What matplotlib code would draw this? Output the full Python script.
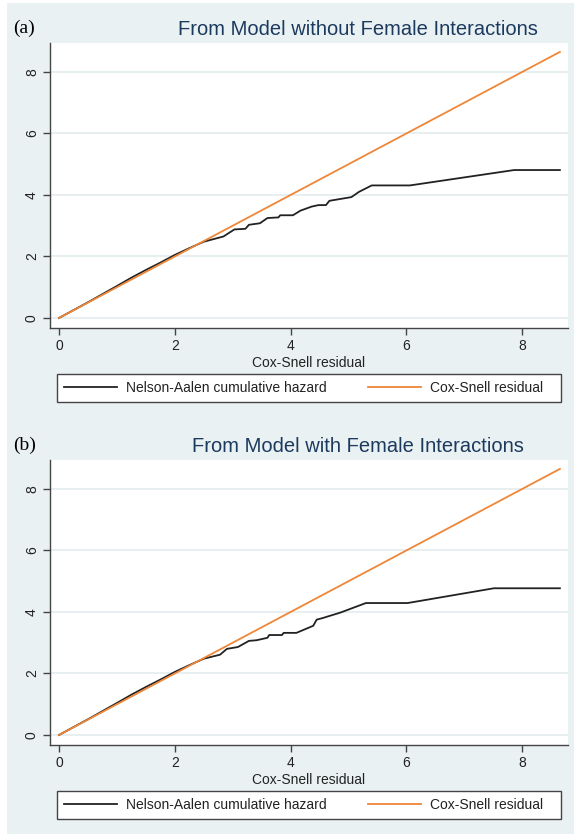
import matplotlib
matplotlib.use("Agg")
import matplotlib.pyplot as plt
from matplotlib.patches import Rectangle

# ---- data ----
panel_labels = ["(a)", "(b)"]
titles = ["From Model without Female Interactions", "From Model with Female Interactions"]

na_x_a = [0, 0.5, 1.0, 1.25, 1.5, 1.75, 2.0, 2.25, 2.5, 2.7, 2.84, 3.03, 3.22, 3.28, 3.47, 3.6,
          3.79, 3.82, 4.04, 4.17, 4.36, 4.48, 4.61, 4.67, 5.05, 5.18, 5.4, 6.06, 7.86, 8.65]
na_y_a = [0, 0.51, 1.04, 1.31, 1.56, 1.8, 2.05, 2.27, 2.48, 2.58, 2.65, 2.88, 2.9, 3.03, 3.08, 3.25,
          3.27, 3.34, 3.34, 3.49, 3.62, 3.67, 3.67, 3.81, 3.93, 4.1, 4.31, 4.31, 4.81, 4.81]

na_x_b = [0, 0.5, 1.0, 1.25, 1.5, 1.75, 2.0, 2.25, 2.5, 2.78, 2.9, 3.09, 3.28, 3.41, 3.6, 3.63,
          3.85, 3.88, 4.1, 4.39, 4.45, 4.55, 4.86, 5.3, 6.02, 7.51, 8.65]
na_y_b = [0, 0.51, 1.04, 1.31, 1.56, 1.8, 2.05, 2.27, 2.48, 2.61, 2.8, 2.86, 3.06, 3.08, 3.16, 3.25,
          3.25, 3.32, 3.32, 3.55, 3.75, 3.8, 3.98, 4.29, 4.29, 4.77, 4.77]

cs_line = [0, 8.65]

x_ticks = [0, 2, 4, 6, 8]
y_ticks = [0, 2, 4, 6, 8]
xlabel = "Cox-Snell residual"
legend_labels = ["Nelson-Aalen cumulative hazard", "Cox-Snell residual"]

# ---- style ----
W, H = 574, 836
BG = "#eaf1f3"
GRID = "#e4ecef"
ORANGE = "#ef8638"
BLACK = "#222222"
NAVY = "#1c3a5e"
SANS = ["Liberation Sans", "DejaVu Sans"]
SERIF = ["Liberation Serif", "DejaVu Serif"]
FS = 10
FSPX = FS * 100 / 72

fig = plt.figure(figsize=(W / 100, H / 100), dpi=100)
fig.patch.set_facecolor("white")
fig.add_artist(Rectangle((7 / W, 1 - 834 / H), (574 - 7) / W, (834 - 3) / H,
                         transform=fig.transFigure, facecolor=BG, edgecolor="none", zorder=-10))

def fx(px):
    return px / W

def fy(py):
    return 1 - py / H

panels = [(na_x_a, na_y_a), (na_x_b, na_y_b)]
offsets = [0, 417]

for i, ((nx, ny), off) in enumerate(zip(panels, offsets)):
    left, right = 50, 568
    top, bottom = 43 + off, 328 + off
    ax = fig.add_axes([fx(left), fy(bottom), fx(right - left), (bottom - top) / H])
    ax.set_facecolor("white")
    ax.plot(nx, ny, color=BLACK, lw=1.3, label=legend_labels[0], zorder=3)
    ax.plot(cs_line, cs_line, color=ORANGE, lw=1.3, label=legend_labels[1], zorder=4)
    ax.set_xlim(-0.155, 8.79)
    ax.set_ylim(-0.325, 8.94)
    ax.set_xticks(x_ticks)
    ax.set_yticks(y_ticks)
    ax.set_xticklabels([str(t) for t in x_ticks], family=SANS, fontsize=FS)
    ax.set_yticklabels([str(t) for t in y_ticks], family=SANS, fontsize=FS,
                       rotation=90, va="center")
    ax.yaxis.grid(True, color=GRID, lw=1.2)
    ax.set_axisbelow(True)
    for s in ["top", "right"]:
        ax.spines[s].set_visible(False)
    for s in ["left", "bottom"]:
        ax.spines[s].set_color("#444444")
        ax.spines[s].set_linewidth(1.0)
    ax.tick_params(axis="both", direction="out", length=5, width=1.0,
                   color="#444444", labelcolor="#222222", pad=3)
    ax.set_xlabel(xlabel, family=SANS, fontsize=FS, color="#222222", labelpad=2)

    # legend frame drawn as a box behind the axes, legend entries placed inside
    fig.add_artist(Rectangle((fx(57), fy(402 + off)), fx(561 - 57), 28 / H,
                             transform=fig.transFigure, facecolor="white",
                             edgecolor="#444444", lw=1.0, zorder=-5))
    leg = ax.legend(loc="center left", bbox_to_anchor=(fx(64), fy(388 + off)),
                    bbox_transform=fig.transFigure, ncol=2, frameon=False,
                    prop={"family": SANS, "size": FS}, handlelength=53 / FSPX,
                    handletextpad=9 / FSPX, columnspacing=41 / FSPX,
                    borderpad=0, borderaxespad=0)
    for t in leg.get_texts():
        t.set_color("#222222")

    fig.text(fx(358), fy(35 + off), titles[i], family=SANS, fontsize=14.5, color=NAVY,
             ha="center", va="baseline")
    fig.text(fx(13), fy(33 + off), panel_labels[i], family=SERIF, fontsize=14, color="black",
             ha="left", va="baseline")

fig.savefig("out.png", dpi=100, facecolor="white")
